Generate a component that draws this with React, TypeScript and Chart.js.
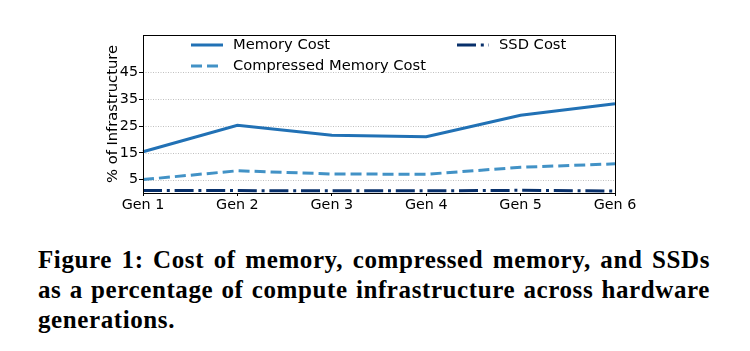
import React, { useEffect, useRef } from "react";
import { Chart, registerables } from "chart.js";

Chart.register(...registerables);

const categories = ["Gen 1", "Gen 2", "Gen 3", "Gen 4", "Gen 5", "Gen 6"];
const memoryCost = [15.4, 25.3, 21.6, 21.0, 29.0, 33.3];
const compressedMemoryCost = [5.0, 8.3, 7.1, 7.0, 9.6, 10.9];
const ssdCost = [0.9, 0.9, 0.8, 0.8, 1.0, 0.7];
const yTicks = [5, 15, 25, 35, 45];
const yMin = 0;
const yMax = 59;

const FONT = "'DejaVu Sans', sans-serif";

const extrasPlugin = {
  id: "extras",
  beforeDatasetsDraw(chart: any) {
    const { ctx, chartArea } = chart;
    const y = chart.scales.y;
    ctx.save();
    ctx.strokeStyle = "#b0b0b0";
    ctx.lineWidth = 0.8;
    ctx.setLineDash([1, 1.5]);
    for (const v of yTicks) {
      const py = Math.round(y.getPixelForValue(v)) + 0.5;
      ctx.beginPath();
      ctx.moveTo(chartArea.left, py);
      ctx.lineTo(chartArea.right, py);
      ctx.stroke();
    }
    ctx.restore();
  },
  afterDraw(chart: any) {
    const { ctx, chartArea } = chart;
    ctx.save();
    ctx.strokeStyle = "#000";
    ctx.lineWidth = 1;
    ctx.setLineDash([]);
    ctx.strokeRect(
      Math.round(chartArea.left) + 0.5,
      Math.round(chartArea.top) + 0.5,
      Math.round(chartArea.right - chartArea.left),
      Math.round(chartArea.bottom - chartArea.top)
    );
    const items = [
      { ds: 0, x: chartArea.left + 48, y: chartArea.top + 10 },
      { ds: 1, x: chartArea.left + 48, y: chartArea.top + 31 },
      { ds: 2, x: chartArea.left + 314, y: chartArea.top + 10 },
    ];
    ctx.font = `14.7px ${FONT}`;
    ctx.textBaseline = "middle";
    ctx.fillStyle = "#000";
    for (const it of items) {
      const d = chart.data.datasets[it.ds];
      ctx.strokeStyle = d.borderColor;
      ctx.lineWidth = d.borderWidth;
      ctx.setLineDash(d.borderDash || []);
      ctx.beginPath();
      ctx.moveTo(it.x, it.y);
      ctx.lineTo(it.x + 32, it.y);
      ctx.stroke();
      ctx.fillText(d.label, it.x + 42, it.y);
    }
    ctx.restore();
  },
};

function App() {
  const ref = useRef<HTMLCanvasElement>(null);
  useEffect(() => {
    if (!ref.current) return;
    const chart = new Chart(ref.current, {
      type: "line",
      data: {
        labels: categories,
        datasets: [
          {
            label: "Memory Cost",
            data: memoryCost,
            borderColor: "#2171b5",
            borderWidth: 3,
            pointRadius: 0,
            tension: 0,
          },
          {
            label: "Compressed Memory Cost",
            data: compressedMemoryCost,
            borderColor: "#4292c6",
            borderWidth: 3,
            borderDash: [11, 5],
            pointRadius: 0,
            tension: 0,
          },
          {
            label: "SSD Cost",
            data: ssdCost,
            borderColor: "#08306b",
            borderWidth: 3,
            borderDash: [19, 4.8, 3, 4.8],
            pointRadius: 0,
            tension: 0,
          },
        ],
      },
      options: {
        responsive: false,
        animation: false,
        layout: { padding: { top: 35, right: 135, left: 0, bottom: 0 } },
        plugins: {
          legend: { display: false },
          tooltip: { enabled: false },
        },
        scales: {
          x: {
            offset: false,
            grid: {
              display: true,
              drawOnChartArea: false,
              drawTicks: true,
              tickLength: 3,
              tickColor: "#000",
            },
            border: { display: true, color: "#000" },
            ticks: {
              color: "#000",
              font: { family: FONT, size: 14.3 },
              padding: 1,
              maxRotation: 0,
              autoSkip: false,
            },
            afterFit(scale: any) {
              scale.height = 39;
            },
          },
          y: {
            min: yMin,
            max: yMax,
            afterBuildTicks(scale: any) {
              scale.ticks = yTicks.map((v) => ({ value: v }));
            },
            grid: {
              display: true,
              drawOnChartArea: false,
              drawTicks: true,
              tickLength: 4,
              tickColor: "#000",
            },
            border: { display: true, color: "#000" },
            ticks: {
              color: "#000",
              font: { family: FONT, size: 14.3 },
              padding: 1,
            },
            title: {
              display: true,
              text: "% of Infrastructure",
              color: "#000",
              font: { family: FONT, size: 14.7 },
              padding: { top: 104, bottom: 0 },
            },
            afterFit(scale: any) {
              scale.width = 143;
            },
          },
        },
      },
      plugins: [extrasPlugin],
    });
    return () => chart.destroy();
  }, []);

  const lineStyle: React.CSSProperties = {
    width: 672,
    textAlign: "justify",
    textAlignLast: "justify",
  };

  return (
    <div style={{ position: "absolute", left: 0, top: 0, width: 750, height: 351, background: "#fff" }}>
      <canvas ref={ref} width={750} height={232} style={{ position: "absolute", left: 0, top: 0 }} />
      <div
        style={{
          position: "absolute",
          left: 38,
          top: 245,
          fontFamily: "'Liberation Serif', 'DejaVu Serif', serif",
          fontWeight: "bold",
          fontSize: 25,
          letterSpacing: 0.6,
          lineHeight: "30px",
          color: "#000",
          whiteSpace: "nowrap",
        }}
      >
        <div style={lineStyle}>Figure 1: Cost of memory, compressed memory, and SSDs</div>
        <div style={lineStyle}>as a percentage of compute infrastructure across hardware</div>
        <div>generations.</div>
      </div>
    </div>
  );
}

export default App;
